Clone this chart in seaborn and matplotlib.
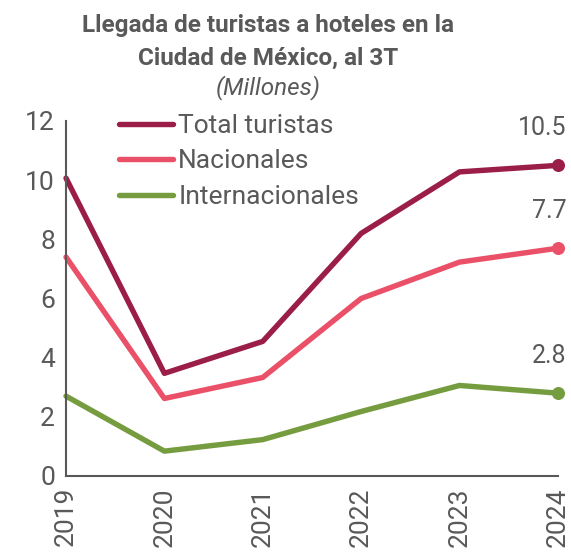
import matplotlib
matplotlib.use("Agg")
import matplotlib.pyplot as plt
import seaborn as sns
import pandas as pd

years = [2019, 2020, 2021, 2022, 2023, 2024]
total = [10.07, 3.47, 4.55, 8.2, 10.28, 10.5]
nacionales = [7.4, 2.62, 3.33, 6.0, 7.23, 7.7]
internacionales = [2.7, 0.84, 1.23, 2.18, 3.06, 2.8]
series_names = ["Total turistas", "Nacionales", "Internacionales"]
colors = ["#9B1E48", "#EA5168", "#769C40"]
end_labels = ["10.5", "7.7", "2.8"]

df = pd.DataFrame({"year": years * 3,
                   "value": total + nacionales + internacionales,
                   "serie": sum([[n] * len(years) for n in series_names], [])})

sns.set_theme(style="white")
plt.rcParams['font.family'] = ['Roboto', 'DejaVu Sans']
gray = "#595959"

fig = plt.figure(figsize=(5.71, 5.54), dpi=100)
ax = fig.add_axes([0.1156, 0.1408, 0.977 - 0.1156, 0.7816 - 0.1408])

sns.lineplot(data=df, x="year", y="value", hue="serie", hue_order=series_names,
             palette=colors, linewidth=3.9, ax=ax, clip_on=False)

# end points and labels
for vals, col, lab in zip([total, nacionales, internacionales], colors, end_labels):
    ax.scatter([years[-1]], [vals[-1]], s=70, color=col, zorder=5, clip_on=False)
    ax.annotate(lab, xy=(years[-1], vals[-1]), xytext=(9, 25), textcoords='offset pixels',
                ha='right', va='bottom', fontsize=18, color=gray)

ax.set_xlim(2019, 2024)
ax.set_ylim(0, 12)
ax.set_xticks(years)
ax.set_xticklabels([str(y) for y in years], rotation=90)
ax.set_yticks(range(0, 13, 2))
ax.set_xlabel("")
ax.set_ylabel("")
for s in ["top", "right"]:
    ax.spines[s].set_visible(False)
for s in ["left", "bottom"]:
    ax.spines[s].set_color(gray)
    ax.spines[s].set_linewidth(1.5)
ax.tick_params(axis='both', direction='inout', length=12, width=1.5, color=gray,
               labelcolor=gray, labelsize=19, pad=2)

leg = ax.legend(loc='upper left', bbox_to_anchor=(0.086, 1.05), frameon=False,
                fontsize=19, handlelength=2.05, handletextpad=0.2, labelspacing=0.44,
                borderaxespad=0)
for t in leg.get_texts():
    t.set_color(gray)

fig.text(0.469, 0.942, "Llegada de turistas a hoteles en la", ha='center', va='baseline',
         fontsize=17.5, fontweight='bold', color=gray)
fig.text(0.469, 0.883, "Ciudad de México, al 3T", ha='center', va='baseline',
         fontsize=17.5, fontweight='bold', color=gray)
fig.text(0.469, 0.830, "(Millones)", ha='center', va='baseline',
         fontsize=17.5, fontstyle='italic', color=gray)

fig.savefig("out.png", dpi=100)
